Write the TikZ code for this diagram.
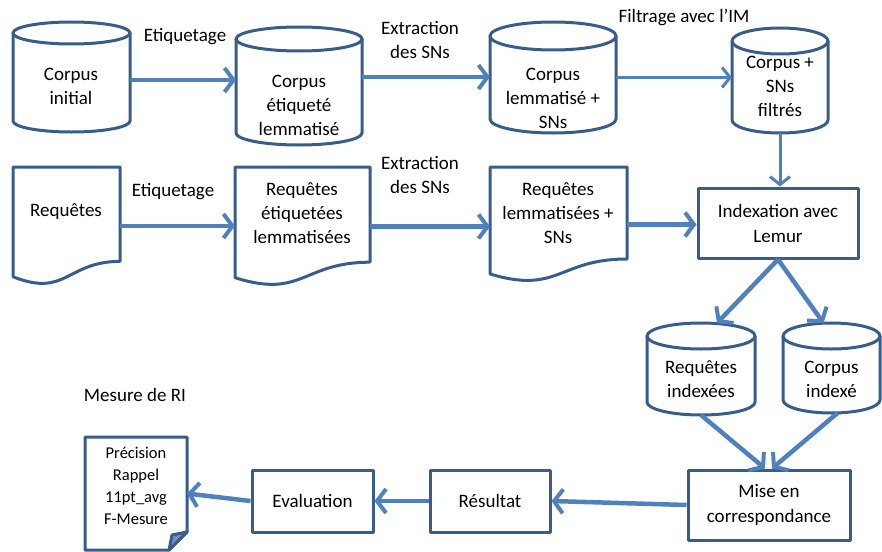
\documentclass[tikz,border=0pt]{standalone}
\usepackage{fontspec}
\setmainfont{Carlito}
\usetikzlibrary{arrows.meta,calc}
\definecolor{shpc}{HTML}{385D8A}
\definecolor{arrc}{HTML}{4F81BD}
\tikzset{
  shp/.style={draw=shpc,line width=3pt,fill=white,line join=round},
  txt/.style={align=center,inner sep=0pt,font=\fontsize{19}{24}\selectfont},
  lbl/.style={align=center,inner sep=0pt,font=\fontsize{19}{24}\selectfont},
  boxn/.style={shp,rectangle,inner sep=0pt,align=center,font=\fontsize{19}{25}\selectfont},
  arr/.style={draw=arrc,line width=4.5pt,-{Straight Barb[length=9pt,width=24pt,line width=4pt]}},
  thinarr/.style={draw=arrc,line width=3pt,-{Straight Barb[length=8pt,width=20pt,line width=3pt]}},
  hold/.style={inner sep=0pt,outer sep=0pt}
}
\newcommand\mycyl[6]{%
  \pgfmathsetmacro\cyA{#3+#6}\pgfmathsetmacro\cyB{#4-#6}%
  \pgfmathsetmacro\cyM{(#3+#4)/2}\pgfmathsetmacro\cyW{2*#5}\pgfmathsetmacro\cyH{#4-#3}%
  \node[hold,minimum width=\cyW pt,minimum height=\cyH pt] (#1) at (#2,\cyM) {};
  \draw[shp] (#2-#5,\cyA) -- (#2-#5,\cyB) arc[start angle=180,end angle=360,x radius=#5pt,y radius=#6pt] -- (#2+#5,\cyA);
  \draw[shp] (#2,\cyA) ellipse[x radius=#5pt,y radius=#6pt];
}
\newcommand\mydoc[5]{%
  \pgfmathsetmacro\dcM{(#2+#4)/2}\pgfmathsetmacro\dcY{#3+#5/2}%
  \pgfmathsetmacro\dcW{#4-#2}%
  \node[hold,minimum width=\dcW pt,minimum height=#5pt] (#1) at (\dcM,\dcY) {};
  \draw[shp] (#2,#3) -- (#4,#3) -- (#4,#3+0.80*#5)
    .. controls (\dcM,#3+0.80*#5) and (\dcM,#3+1.11*#5) .. (#2,#3+0.93*#5) -- cycle;
}
\begin{document}
\begin{tikzpicture}[x=1pt,y=-1pt]
\useasboundingbox (0,0) rectangle (882,551);
% row 1 cylinders
\mycyl{c1}{71.5}{22}{132}{58.5}{11}
\mycyl{c2}{299}{27}{145}{63}{12}
\mycyl{c3}{553}{22}{133}{63}{14}
\mycyl{c4}{780}{28}{133}{48}{13}
\node[txt] (c1t) at (71,86) {Corpus\\initial};
\node[txt] (c2t) at (299,105) {Corpus\\étiqueté\\lemmatisé};
\node[txt] (c3t) at (553,98) {Corpus\\lemmatisé +\\SNs};
\node[txt] (c4t) at (780,86) {Corpus +\\SNs\\filtrés};
% row 2 documents
\mydoc{d1}{13}{167}{120}{118}
\mydoc{d2}{235}{167}{370}{119}
\mydoc{d3}{490}{167}{627}{115}
\node[txt] (d1t) at (66,212) {Requêtes};
\node[txt] (d2t) at (302,213) {Requêtes\\étiquetées\\lemmatisées};
\node[txt] (d3t) at (558,213) {Requêtes\\lemmatisées +\\SNs};
\node[boxn,minimum width=160pt,minimum height=70pt] (ind) at (778,223) {Indexation avec\\Lemur};
% row 3
\mycyl{c5}{701}{323}{415}{54}{13}
\mycyl{c6}{831.5}{323}{413}{48.5}{13}
\node[txt] (c5t) at (701,379) {Requêtes\\indexées};
\node[txt] (c6t) at (831.5,379) {Corpus\\indexé};
\node[boxn,minimum width=162pt,minimum height=70pt] (mise) at (769,505) {Mise en\\correspondance};
\node[boxn,minimum width=120pt,minimum height=62pt] (res) at (490,501) {Résultat};
\node[boxn,minimum width=121pt,minimum height=62pt] (eva) at (312.5,501) {Evaluation};
% note
\node[hold,minimum width=102pt,minimum height=113pt] (note) at (136,493.5) {};
\draw[shp] (85,437) -- (187,437) -- (187,532) -- (169,550) -- (85,550) -- cycle;
\draw[shp,fill=shpc!70] (187,532) -- (172,535) -- (169,550) -- cycle;
\node[align=center,inner sep=0pt,font=\fontsize{16.5}{22}\selectfont] (notet) at (136,486) {Précision\\Rappel\\11pt\_avg\\F-Mesure};
% labels
\node[lbl] (l1) at (185,37) {Etiquetage};
\node[lbl] (l2) at (420,40) {Extraction\\des SNs};
\node[lbl] (l3) at (684,17) {Filtrage avec l’IM};
\node[lbl] (l4) at (173,192) {Etiquetage};
\node[lbl] (l5) at (420,175) {Extraction\\des SNs};
\node[lbl] (l6) at (135,395) {Mesure de RI};
% arrows
\draw[arr] ([yshift=-3pt]c1.east) -- ([yshift=-3pt]c1.east -| c2.west);
\draw[arr] ([yshift=9pt]c2.east) -- ([yshift=9pt]c2.east -| c3.west);
\draw[thinarr] (c3.east) -- (c3.east -| c4.west);
\draw[thinarr] (c4.south) -- (c4.south |- ind.north);
\draw[arr] (d1.east) -- (d1.east -| d2.west);
\draw[arr] (d2.east) -- (d2.east -| d3.west);
\draw[arr] (d3.east) -- (d3.east -| ind.west);
\draw[arr] (ind.south) -- ([xshift=16pt]c5.north);
\draw[arr] (ind.south) -- ([xshift=-8pt]c6.north);
\draw[arr] (c5.south) -- ([xshift=-4pt]mise.north);
\draw[arr] ([xshift=6pt]c6.south) -- ([xshift=3pt]mise.north);
\draw[arr] (mise.west) -- (res.east);
\draw[arr] (res.west) -- (eva.east);
\draw[arr] (eva.west) -- (note.east);
\end{tikzpicture}
\end{document}
